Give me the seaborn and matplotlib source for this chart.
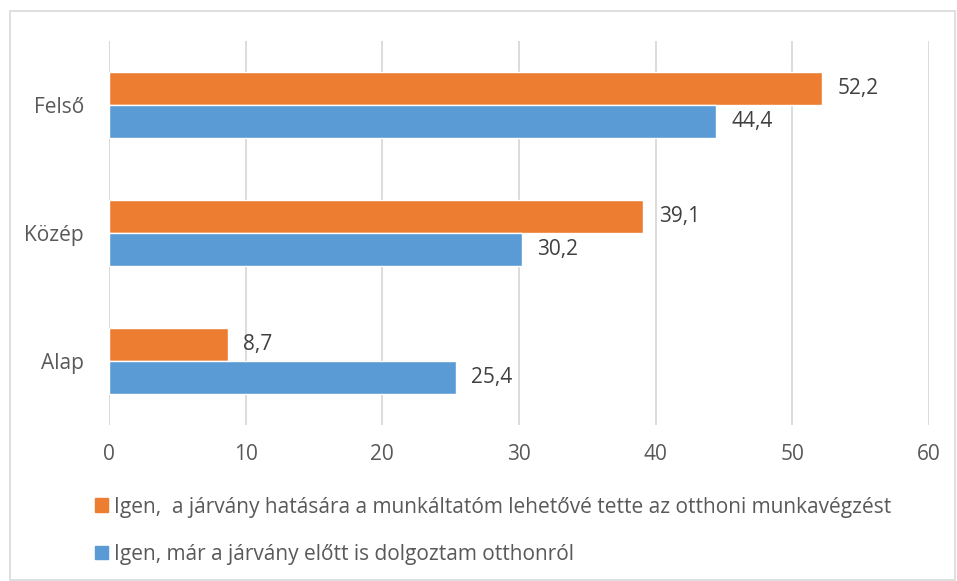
import pandas as pd
import seaborn as sns
import matplotlib.pyplot as plt
from matplotlib.patches import Rectangle

# adatok
kategoriak = ["Felső", "Közép", "Alap"]
sorozat_1 = "Igen,  a járvány hatására a munkáltatóm lehetővé tette az otthoni munkavégzést"
sorozat_2 = "Igen, már a járvány előtt is dolgoztam otthonról"
ertekek_1 = [52.2, 39.1, 8.7]
ertekek_2 = [44.4, 30.2, 25.4]
x_ticks = [0, 10, 20, 30, 40, 50, 60]

df = pd.DataFrame({
    "kategoria": kategoriak * 2,
    "sorozat": [sorozat_1] * 3 + [sorozat_2] * 3,
    "ertek": ertekek_1 + ertekek_2,
})

szin_1 = "#ED7D31"
szin_2 = "#5B9BD5"
szoveg = "#595959"
meret = 15

sns.set_style("white")
plt.rcParams['font.family'] = ['Open Sans', 'DejaVu Sans']

fig = plt.figure(figsize=(9.57, 5.81), dpi=100)
ax = fig.add_axes([109 / 957, 1 - 425 / 581, 820 / 957, 384 / 581])

sns.barplot(data=df, y="kategoria", x="ertek", hue="sorozat", orient="h",
            hue_order=[sorozat_1, sorozat_2], order=kategoriak,
            palette=[szin_1, szin_2], width=0.52, gap=0, ax=ax, legend=False,
            saturation=1, errorbar=None, zorder=3)

for cont in ax.containers:
    labels = [f"{v:.1f}".replace(".", ",") for v in cont.datavalues]
    ax.bar_label(cont, labels=labels, padding=11, fontsize=meret, color="#404040")

ax.set_xlim(0, 60)
ax.set_ylim(2.5, -0.5)
ax.set_xticks(x_ticks)
ax.set_xticklabels([str(t) for t in x_ticks])
ax.xaxis.grid(True, color="#D9D9D9", linewidth=1.3, zorder=0)
ax.set_xlabel("")
ax.set_ylabel("")
for s in ax.spines.values():
    s.set_visible(False)
ax.axvline(0, color="#D9D9D9", linewidth=1.3, zorder=1)
ax.tick_params(axis="x", length=0, pad=14, labelsize=meret, colors=szoveg)
ax.tick_params(axis="y", length=0, pad=18, labelsize=meret, colors=szoveg)

# jelmagyarazat
handles = [Rectangle((0, 0), 1, 1, color=szin_1), Rectangle((0, 0), 1, 1, color=szin_2)]
fig.legend(handles, [sorozat_1, sorozat_2], loc="upper left",
           bbox_to_anchor=(76 / 957, 1 - 478 / 581), frameon=False,
           handlelength=0.65, handleheight=0.65, handletextpad=0.25,
           labelspacing=1.25, fontsize=meret, labelcolor=szoveg)

# keret
fig.patches.append(Rectangle((10 / 957, 0.002), 945 / 957, 1 - 11 / 581 - 0.002,
                             transform=fig.transFigure, fill=False,
                             edgecolor="#D9D9D9", linewidth=1.2))

fig.savefig("out.png", dpi=100)
